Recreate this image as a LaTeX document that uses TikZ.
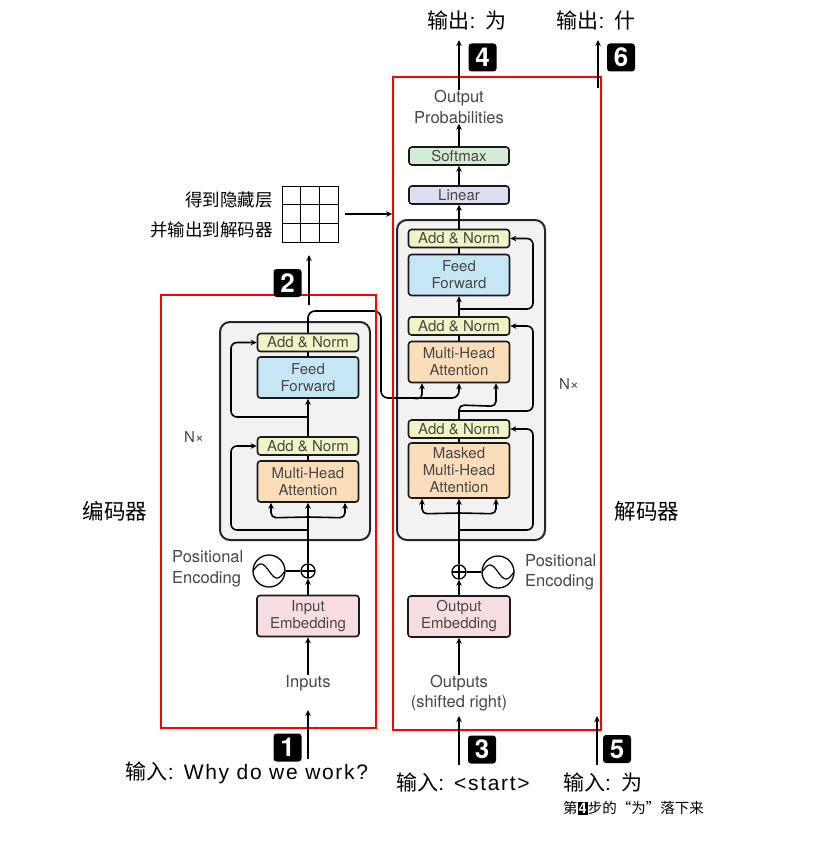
\documentclass[tikz,border=0pt]{standalone}
\usepackage{fontspec}
\setmainfont{TeX Gyre Heros}
\newfontfamily\cjk{Noto Sans CJK SC}
\newfontfamily\wlat[LetterSpace=8]{Liberation Sans}
\usetikzlibrary{arrows.meta,calc}
\definecolor{anC}{HTML}{F2F4C6}
\definecolor{ffC}{HTML}{C6E5F5}
\definecolor{mhC}{HTML}{FBDDBA}
\definecolor{emC}{HTML}{F8DDE0}
\definecolor{smC}{HTML}{D3ECD5}
\definecolor{linC}{HTML}{DCDFF2}
\definecolor{grayC}{HTML}{F2F2F2}
\begin{document}
\begin{tikzpicture}[x=1pt,y=-1pt,
  blk/.style={draw=black!90, line width=1.6pt, rounded corners=3pt, text=black!72, font=\fontsize{15}{17}\selectfont, align=center, inner sep=0pt, minimum width=101pt},
  an/.style={blk, fill=anC, minimum height=18pt},
  ff/.style={blk, fill=ffC, minimum height=41pt},
  mh/.style={blk, fill=mhC, minimum height=41pt},
  em/.style={blk, fill=emC, minimum height=41pt, minimum width=102pt},
  stack/.style={draw=black!85, line width=2pt, fill=grayC, rounded corners=10pt, inner sep=0pt},
  lbl/.style={text=black!72, font=\fontsize{16.5}{20.5}\selectfont, align=center, inner sep=0pt},
  ln/.style={line width=1.6pt, draw=black},
  ar/.style={ln, -{Stealth[length=6pt,width=5.5pt]}},
  rbox/.style={draw=red, line width=1.6pt, inner sep=0pt},
  numbox/.style={fill=black, text=white, rounded corners=3pt, minimum size=28pt, inner sep=0pt, font=\fontsize{26}{26}\selectfont\bfseries},
  zh/.style={font=\fontsize{21}{22}\selectfont, inner sep=0pt, text=black},
  plusc/.style={circle, draw, line width=1.3pt, minimum size=14pt, inner sep=0pt},
  sinc/.style={circle, draw, line width=1.3pt, minimum size=32pt, inner sep=0pt},
]
\useasboundingbox[fill=white] (0,0) rectangle (829,845);

% ---------------- Encoder ----------------
\node[stack, minimum width=150pt, minimum height=218pt] (encblk) at (295,431) {};
\node[an] (an1) at (308,342.5) {Add \& Norm};
\node[ff] (ff1) at (308,377.5) {Feed\\Forward};
\node[an] (an2) at (308,446) {Add \& Norm};
\node[mh] (mha1) at (308,481.5) {Multi-Head\\Attention};
\node[em] (emb1) at (308,616) {Input\\Embedding};
\node[plusc] (plus1) at (308,571) {};
\draw[line width=1.2pt] ($(plus1.north)+(0,2)$) -- ($(plus1.south)+(0,-2)$) ($(plus1.west)+(2,0)$) -- ($(plus1.east)+(-2,0)$);
\node[sinc] (pe1) at (269,571) {};
\draw[line width=1.2pt] plot[domain=-16:16,samples=40,smooth] ({269+\x},{571+7*sin(\x*11.25)});
\node[lbl, align=left, anchor=west] (pet1) at (172,569) {Positional\\Encoding};
\node[lbl] (inputs) at (308,683) {Inputs};
\node[text=black!72, font=\fontsize{15}{15}\selectfont, inner sep=0pt] (nx1) at (194,437) {N×};

\draw[ar] (inputs.north) -- (emb1.south);
\draw[ar] (emb1.north) -- (plus1.south);
\draw[ln] (pe1.east) -- (plus1.west);
\draw[ar] (plus1.north) -- (mha1.south);
\draw[ar, rounded corners=5pt] (308,517) -- ($(mha1.south)+(-37,15)$) -- ($(mha1.south)+(-37,0)$);
\draw[ar, rounded corners=5pt] (308,517) -- ($(mha1.south)+(37,15)$) -- ($(mha1.south)+(37,0)$);
\draw[ar, rounded corners=6pt] (308,530) -- (231,530) -- (231,446) -- (an2.west);
\draw[ln] (mha1.north) -- (an2.south);
\draw[ar] (an2.north) -- (ff1.south);
\draw[ar, rounded corners=6pt] (308,417) -- (231,417) -- (231,342.5) -- (an1.west);
\draw[ln] (ff1.north) -- (an1.south);

% ---------------- Decoder ----------------
\node[stack, minimum width=148pt, minimum height=320pt] (decblk) at (471,380) {};
\node[an] (an3) at (459,238.5) {Add \& Norm};
\node[ff] (ff2) at (459,275) {Feed\\Forward};
\node[an] (an4) at (459,326) {Add \& Norm};
\node[mh] (mha2) at (459,362) {Multi-Head\\Attention};
\node[an] (an5) at (459,429) {Add \& Norm};
\node[mh, minimum height=55pt] (mmha) at (459,470.5) {Masked\\Multi-Head\\Attention};
\node[em] (emb2) at (459,616.5) {Output\\Embedding};
\node[plusc] (plus2) at (459,572) {};
\draw[line width=1.2pt] ($(plus2.north)+(0,2)$) -- ($(plus2.south)+(0,-2)$) ($(plus2.west)+(2,0)$) -- ($(plus2.east)+(-2,0)$);
\node[sinc] (pe2) at (498,572) {};
\draw[line width=1.2pt] plot[domain=-16:16,samples=40,smooth] ({498+\x},{572+7*sin(\x*11.25)});
\node[lbl, align=left, anchor=west] (pet2) at (525,572.5) {Positional\\Encoding};
\node[lbl] (outputs) at (459,693) {Outputs\\(shifted right)};
\node[blk, fill=linC, minimum height=18pt, minimum width=100pt] (linear) at (459,195) {Linear};
\node[blk, fill=smC, minimum height=18pt, minimum width=100pt] (softmax) at (459,156) {Softmax};
\node[lbl] (outprob) at (459,107) {Output\\Probabilities};
\node[text=black!72, font=\fontsize{15}{15}\selectfont, inner sep=0pt] (nx2) at (569,384) {N×};

\draw[ar] (outputs.north) -- (emb2.south);
\draw[ar] (emb2.north) -- (plus2.south);
\draw[ln] (pe2.west) -- (plus2.east);
\draw[ar] (plus2.north) -- (mmha.south);
\draw[ar, rounded corners=5pt] (459,513) -- ($(mmha.south)+(-37,15)$) -- ($(mmha.south)+(-37,0)$);
\draw[ar, rounded corners=5pt] (459,513) -- ($(mmha.south)+(37,15)$) -- ($(mmha.south)+(37,0)$);
\draw[ar, rounded corners=6pt] (459,530) -- (533,530) -- (533,429) -- (an5.east);
\draw[ln] (mmha.north) -- (an5.south);
\draw[ar, rounded corners=6pt] (459,411) -- (533,411) -- (533,326) -- (an4.east);
\draw[ar, rounded corners=5pt] (an5.north) -- (459,405) -- ($(mha2.south)+(37,23)$) -- ($(mha2.south)+(37,0)$);
\draw[ln] (mha2.north) -- (an4.south);
\draw[ar] (an4.north) -- (ff2.south);
\draw[ar, rounded corners=6pt] (459,309) -- (533,309) -- (533,238.5) -- (an3.east);
\draw[ln] (ff2.north) -- (an3.south);
\draw[ar] (an3.north) -- (linear.south);
\draw[ar] (linear.north) -- (softmax.south);
\draw[ar] (softmax.north) -- (outprob.south);

% encoder output into decoder
\draw[ar, rounded corners=7pt] (an1.north) -- (308,311) -- (381,311) -- (381,398) -- (459,398) -- (mha2.south);
\draw[ar, rounded corners=5pt] (412,398) -- ($(mha2.south)+(-37,16)$) -- ($(mha2.south)+(-37,0)$);

% ---------------- hidden state grid ----------------
\node[draw, line width=0.8pt, minimum size=56pt, inner sep=0pt] (hid) at (310,214) {};
\draw[line width=0.8pt] ($(hid.north west)!1/3!(hid.north east)$) -- ($(hid.south west)!1/3!(hid.south east)$)
  ($(hid.north west)!2/3!(hid.north east)$) -- ($(hid.south west)!2/3!(hid.south east)$)
  ($(hid.north west)!1/3!(hid.south west)$) -- ($(hid.north east)!1/3!(hid.south east)$)
  ($(hid.north west)!2/3!(hid.south west)$) -- ($(hid.north east)!2/3!(hid.south east)$);
\node[zh, font=\cjk\fontsize{17.5}{17.5}\selectfont, anchor=east] (hidt1) at (273,200) {得到隐藏层};
\node[zh, font=\cjk\fontsize{17.5}{17.5}\selectfont, anchor=east] (hidt2) at (273,230) {并输出到解码器};

% ---------------- red boxes ----------------
\node[rbox, minimum width=215pt, minimum height=433pt] (encbox) at (268.5,511.5) {};
\node[rbox, minimum width=208pt, minimum height=653pt] (decbox) at (497,403.5) {};
\draw[ar] ([xshift=7pt]hid.east) -- (hid.east -| decbox.west);

% ---------------- step arrows & labels ----------------
\coordinate (a1s) at (308,759); \coordinate (a1e) at (308,710);
\draw[ar] (a1s) -- (a1e);
\coordinate (a2s) at (309,305); \coordinate (a2e) at (309,255);
\draw[ar] (a2s) -- (a2e);
\coordinate (a3s) at (459,765); \coordinate (a3e) at (459,716);
\draw[ar] (a3s) -- (a3e);
\coordinate (a5s) at (597,765); \coordinate (a5e) at (597,716);
\draw[ar] (a5s) -- (a5e);
\coordinate (a4e) at (459,40);
\draw[ar] (outprob.north) -- (a4e);
\coordinate (a6s) at (598,88); \coordinate (a6e) at (598,40);
\draw[ar] (a6s) -- (a6e);

\node[numbox] (n1) at (287.5,747.5) {1};
\node[numbox] (n2) at (287.5,283) {2};
\node[numbox] (n3) at (482,749.5) {3};
\node[numbox] (n4) at (482.5,57.5) {4};
\node[numbox] (n5) at (617,749) {5};
\node[numbox] (n6) at (621,57.5) {6};

\node[zh] (o4) at (467,20) {{\cjk 输出}{\wlat : }{\cjk 为}};
\node[zh] (o6) at (596,20) {{\cjk 输出}{\wlat : }{\cjk 什}};
\node[zh] (i1) at (247,773) {{\cjk 输入}{\wlat : Why do we work?}};
\node[zh] (i3) at (463,782) {{\cjk 输入}{\wlat : <start>}};
\node[zh, anchor=west] (i5) at (563,782) {{\cjk 输入}{\wlat : }{\cjk 为}};
\node[zh, anchor=west, font=\cjk\fontsize{14.5}{14.5}\selectfont] (i5b) at (563,808) {第{\setlength\fboxsep{1pt}\colorbox{black}{\textcolor{white}{\fontspec{TeX Gyre Heros}\bfseries 4}}}步的“为”落下来};
\node[zh, font=\cjk\fontsize{21.5}{21.5}\selectfont] (enclbl) at (115,511) {编码器};
\node[zh, font=\cjk\fontsize{21.5}{21.5}\selectfont] (declbl) at (647,511) {解码器};
\end{tikzpicture}
\end{document}
